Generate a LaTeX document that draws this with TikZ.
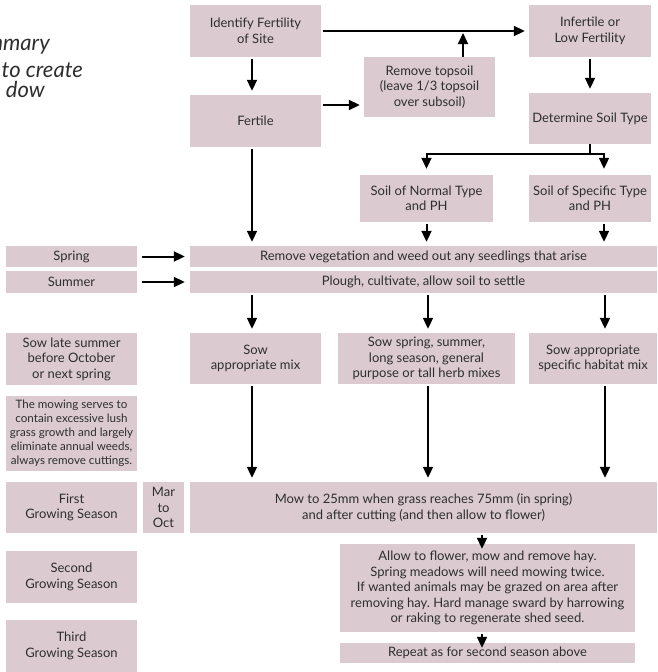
\documentclass[tikz,border=0pt]{standalone}
\usepackage{fontspec}
\setmainfont{Lato}
\usetikzlibrary{arrows.meta,positioning,calc}
\definecolor{boxfill}{HTML}{DBCBD0}
\definecolor{ink}{HTML}{2E2E2E}
\tikzset{
  std_box/.style={fill=boxfill,inner sep=0pt,align=center,
    minimum width=131pt,minimum height=52pt,
    font=\fontsize{13}{15.5}\selectfont\color{ink}},
  note_box/.style={std_box,font=\fontsize{11.6}{14}\selectfont\color{ink}},
  title_txt/.style={inner sep=0pt,font=\fontsize{22}{26}\selectfont\itshape\color{ink}},
  arr/.style={-{Triangle[width=10pt,length=11pt]},line width=2pt,
    shorten <=2pt,shorten >=4pt},
  link/.style={line width=2pt},
}

\begin{document}
\frenchspacing
\begin{tikzpicture}[x=1pt,y=-1pt]
  \useasboundingbox (0,0) rectangle (657,672);

  % heading, cut at the page edge
  \node[title_txt,anchor=base east] (title_a) at (50,50) {mmary};
  \node[title_txt,anchor=base east] (title_b) at (83,77) {to create};
  \node[title_txt,anchor=base east] (title_c) at (45,97) {dow};

  % site and soil
  \node[std_box] (identify) at (255.5,31) {Identify Fertility\\of Site};
  \node[std_box] (fertile) at (255.5,121) {Fertile};
  \node[std_box,minimum height=60pt] (topsoil) at (429.5,87) {Remove topsoil\\(leave 1/3 topsoil\\over subsoil)};
  \node[std_box,minimum width=122pt] (infertile) at (590,31) {Infertile or\\Low Fertility};
  \node[std_box,minimum width=122pt,minimum height=51pt] (soiltype) at (590,118.5) {Determine Soil Type};
  \node[std_box,minimum width=133pt,minimum height=47pt] (normal) at (426.5,198.5) {Soil of Normal Type\\and PH};
  \node[std_box,minimum width=122pt,minimum height=47pt] (specific) at (590,198.5) {Soil of Specific Type\\and PH};

  % preparation
  \node[std_box,minimum height=21pt] (spring) at (71.5,256.5) {Spring};
  \node[std_box,minimum height=22pt] (summer) at (71.5,282) {Summer};
  \node[std_box,minimum width=467pt,minimum height=21pt] (weeding) at (423.5,256.5) {Remove vegetation and weed out any seedlings that arise};
  \node[std_box,minimum width=467pt,minimum height=22pt] (plough) at (423.5,282) {Plough, cultivate, allow soil to settle};

  % sowing
  \node[std_box] (sowlate) at (71.5,359) {Sow late summer\\before October\\or next spring};
  \node[note_box,minimum height=75pt] (mownote) at (71.5,433.5) {The mowing serves to\\contain excessive lush\\grass growth and largely\\eliminate annual weeds,\\always remove cuttings.};
  \node[std_box,minimum height=51pt] (sowmix) at (255.5,358.5) {Sow\\appropriate mix};
  \node[std_box,minimum width=177pt,minimum height=51pt] (sowgeneral) at (426.5,358.5) {Sow spring, summer,\\long season, general\\purpose or tall herb mixes};
  \node[std_box,minimum width=128pt,minimum height=51pt] (sowhabitat) at (593,358.5) {Sow appropriate\\specific habitat mix};

  % growing seasons
  \node[std_box,minimum height=51pt] (first) at (71.5,507.5) {First\\Growing Season};
  \node[std_box,minimum width=41pt,minimum height=51pt] (maroct) at (163.5,507.5) {Mar\\to\\Oct};
  \node[std_box,minimum width=467pt,minimum height=51pt] (mow) at (423.5,507.5) {Mow to 25mm when grass reaches 75mm (in spring)\\and after cutting (and then allow to flower)};
  \node[std_box] (second) at (71.5,577) {Second\\Growing Season};
  \node[std_box] (third) at (71.5,646) {Third\\Growing Season};
  \node[std_box,minimum width=295pt,minimum height=88pt] (hay) at (487.5,588) {Allow to flower, mow and remove hay.\\Spring meadows will need mowing twice.\\If wanted animals may be grazed on area after\\removing hay. Hard manage sward by harrowing\\or raking to regenerate shed seed.};
  \node[std_box,minimum width=295pt,minimum height=20pt] (repeat) at (487.5,653) {Repeat as for second season above};

  % connectors
  \draw[arr] ([xshift=-3.5pt]identify.south) -- ([xshift=-3.5pt]fertile.north);
  \draw[arr] (identify.east) -- (infertile.west);
  \draw[arr] ([yshift=16pt]fertile.east) -- ([yshift=16pt]fertile.east -| topsoil.west);
  \draw[arr,shorten <=0pt,shorten >=2pt] ([xshift=33.5pt]topsoil.north) -- ([xshift=33.5pt]topsoil.north |- identify.east);
  \draw[arr] (infertile.south) -- (soiltype.north);
  \draw[link] (soiltype.south) -- ++(0,10) coordinate (fork);
  \draw[arr,shorten <=0pt,shorten >=6pt] (fork) -| (normal.north);
  \draw[arr,shorten <=0pt,shorten >=6pt] (fork) -| ([xshift=14pt]specific.north);

  \draw[arr] ([xshift=-3.5pt]fertile.south) -- ([xshift=-3.5pt]fertile.south |- weeding.north);
  \draw[arr] (normal.south) -- (normal.south |- weeding.north);
  \draw[arr] ([xshift=14pt]specific.south) -- ([xshift=14pt]specific.south |- weeding.north);
  \draw[arr,shorten <=5pt,shorten >=5pt] (spring) -- (weeding);
  \draw[arr,shorten <=5pt,shorten >=5pt] (summer) -- (summer -| plough.west);

  \draw[arr] ([xshift=-3.5pt]sowmix.north |- plough.south) -- ([xshift=-3.5pt]sowmix.north);
  \draw[arr] ([xshift=1.5pt]sowgeneral.north |- plough.south) -- ([xshift=1.5pt]sowgeneral.north);
  \draw[arr] ([xshift=12pt]sowhabitat.north |- plough.south) -- ([xshift=12pt]sowhabitat.north);

  \draw[arr] ([xshift=-3.5pt]sowmix.south) -- ([xshift=-3.5pt]sowmix.south |- mow.north);
  \draw[arr] ([xshift=1.5pt]sowgeneral.south) -- ([xshift=1.5pt]sowgeneral.south |- mow.north);
  \draw[arr] ([xshift=12pt]sowhabitat.south) -- ([xshift=12pt]sowhabitat.south |- mow.north);

  \draw[arr,shorten >=-5pt] ([xshift=-5.5pt]hay.north |- mow.south) -- ([xshift=-5.5pt]hay.north);
  \draw[arr,shorten >=-5pt] ([xshift=-5.5pt]hay.south) -- ([xshift=-5.5pt]repeat.north);
\end{tikzpicture}
\end{document}
